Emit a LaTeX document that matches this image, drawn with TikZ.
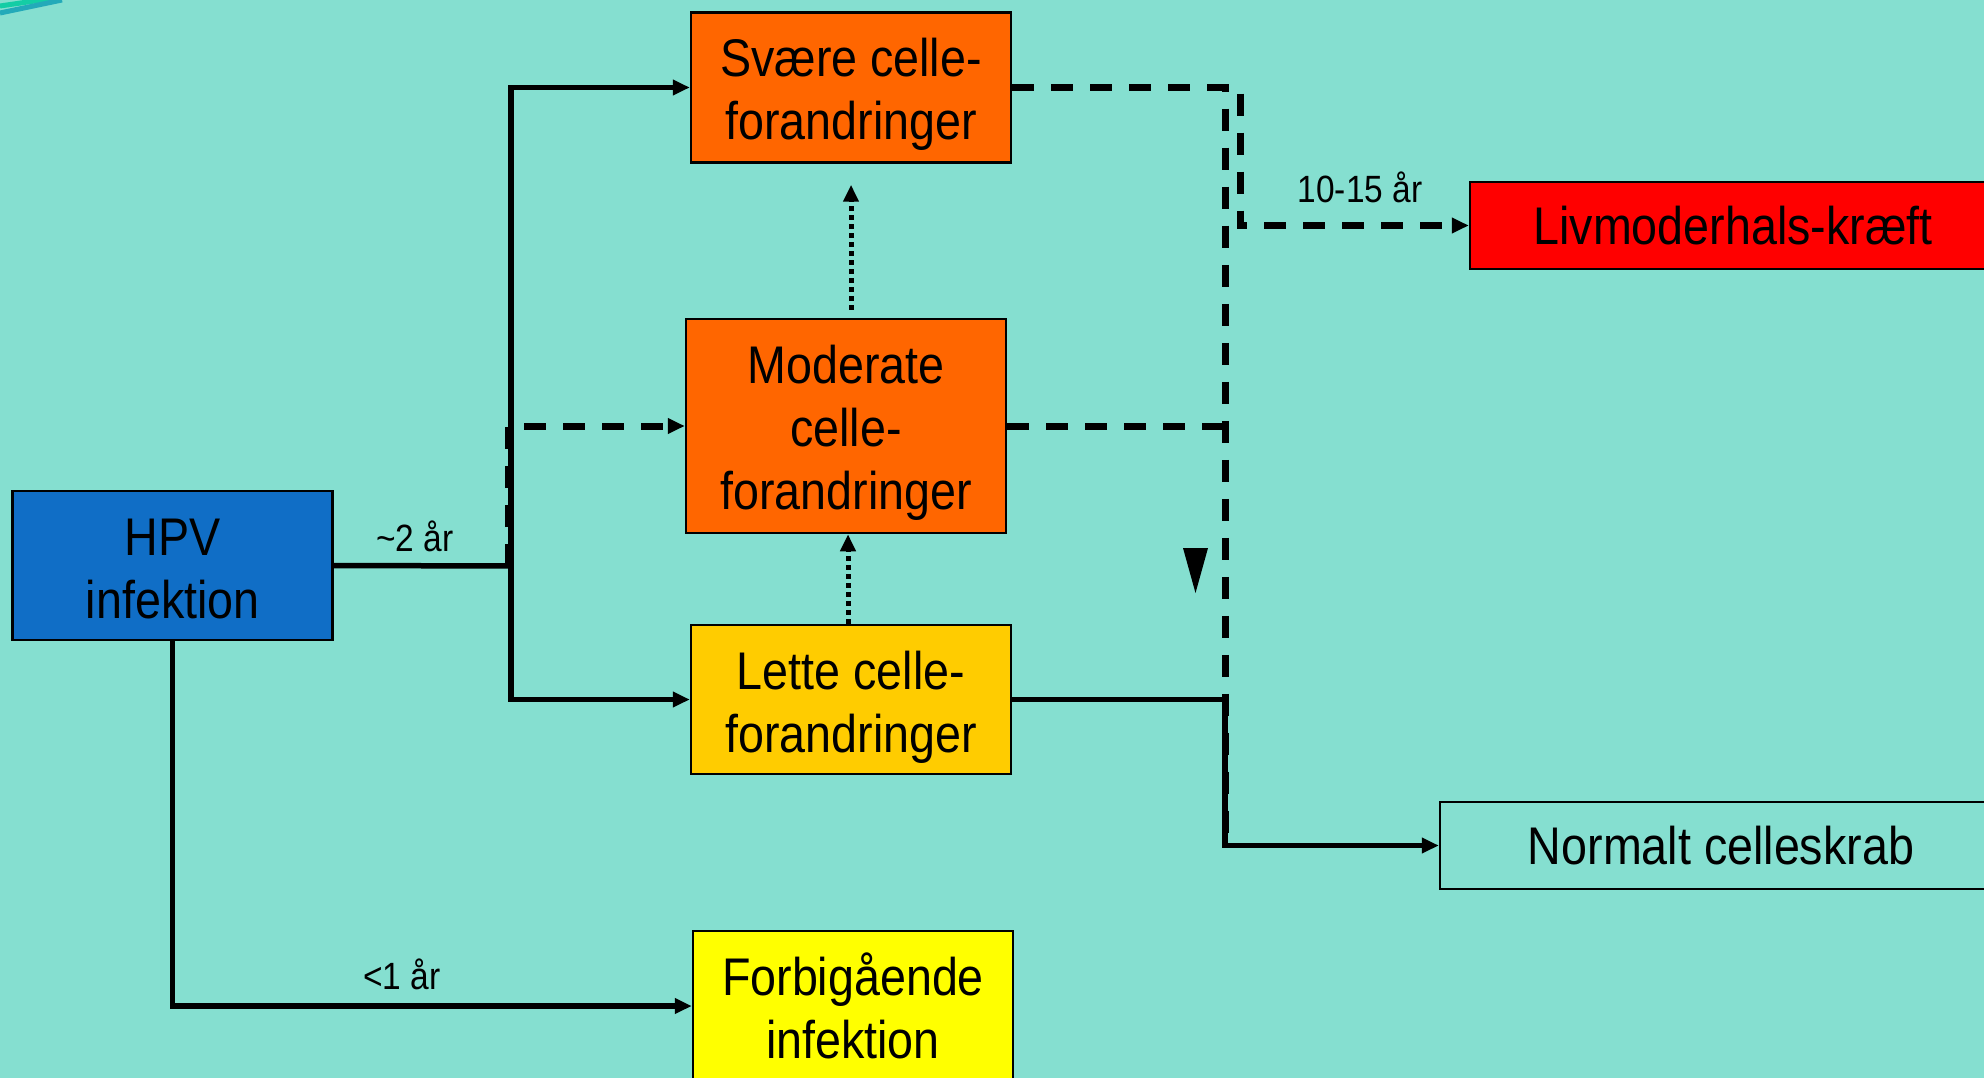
\documentclass[tikz,border=0pt]{standalone}
\usepackage{fontspec}
\setmainfont{Liberation Sans}[FakeStretch=0.88]
\usetikzlibrary{arrows.meta}
\definecolor{bg}{RGB}{133,223,208}
\definecolor{hpvblue}{RGB}{16,110,198}
\definecolor{orng}{RGB}{255,102,0}
\definecolor{gold}{RGB}{255,204,0}
\definecolor{yel}{RGB}{255,255,0}
\definecolor{rd}{RGB}{255,0,0}
\definecolor{streakA}{RGB}{20,205,165}
\definecolor{streakB}{RGB}{35,170,185}
\newcommand\myup[1]{\rule{0pt}{#1}}
\tikzset{
  box/.style={draw=black, line width=2.5pt, inner sep=0pt, align=center,
    font=\fontsize{53}{63}\selectfont},
  lbl/.style={inner sep=0pt, font=\fontsize{38}{44}\selectfont},
  tip/.style={-{Triangle[length=17pt,width=15pt]}},
  solidln/.style={line width=5.5pt},
  dashln/.style={line width=7pt, dash pattern=on 22pt off 17pt},
  dotln/.style={line width=5pt, dash pattern=on 4.5pt off 4.5pt},
}
\begin{document}
\begin{tikzpicture}[x=1pt,y=-1pt]
\fill[bg] (0,0) rectangle (1984,1078);
\useasboundingbox (0,0) rectangle (1984,1078);
% corner streak
\draw[streakA, line width=5pt] (0,6) -- (62,-3);
\draw[streakB, line width=5pt] (0,13) -- (62,0);

% boxes
\node[box, fill=hpvblue, minimum width=320pt, minimum height=149pt] (hpv) at (172.7,565.5) {\myup{44pt}HPV\\infektion};
\node[box, fill=orng, minimum width=320pt, minimum height=150pt] (svaere) at (851,87.5) {\myup{52pt}Svære celle-\\forandringer};
\node[box, fill=orng, minimum width=320pt, minimum height=214pt] (moderate) at (846,426) {\myup{51pt}Moderate\\celle-\\forandringer};
\node[box, fill=gold, minimum width=320pt, minimum height=149pt] (lette) at (851,699.5) {\myup{53pt}Lette celle-\\forandringer};
\node[box, fill=yel, minimum width=320pt, minimum height=150pt] (forbi) at (853,1006) {Forbigående\\infektion};
\node[box, fill=rd, minimum width=526pt, minimum height=87pt] (livmoder) at (1733,225.5) {Livmoderhals-kræft};
\node[box, minimum width=562pt, minimum height=87pt] (normalt) at (1721,845.5) {Normalt celleskrab};

% labels
\node[lbl] (l2) at (415,536) {\textasciitilde 2 år};
\node[lbl] (l1) at (402,974) {<1 år};
\node[lbl] (l10) at (1360,187) {10-15 år};

% junction coordinates
\coordinate (j) at (511,566);
\coordinate (jd) at (508,566);
\coordinate (c1) at (1240,225.5);
\coordinate (c2) at (1225,845.5);

% solid connectors
\draw[solidln] (hpv.east) -- (j);
\draw[solidln, tip] (j) |- (svaere.west);
\draw[solidln, tip] (j) |- (lette.west);
\draw[solidln, tip] (hpv.south) |- (forbi.west);
\draw[solidln, tip] (lette.east) -| (c2) -- (normalt.west);

% dashed connectors
\draw[dashln, tip] (jd) |- (moderate.west);
\draw[dashln, tip] (svaere.east) -| (c1) -- (livmoder.west);
\draw[dashln] (svaere.east) -| (c2);
\draw[dashln] (moderate.east) -- (moderate.east -| c2);

% dotted connectors
\draw[dotln, tip] ([yshift=8pt]svaere.south |- moderate.north) -- ([yshift=-21pt]svaere.south);
\draw[dotln, tip] ([xshift=-3pt]lette.north) -- ([xshift=-3pt]lette.north |- moderate.south);

% loose arrowhead
\fill (1183,548) -- (1208,548) -- (1195.5,593) -- cycle;
\end{tikzpicture}
\end{document}
